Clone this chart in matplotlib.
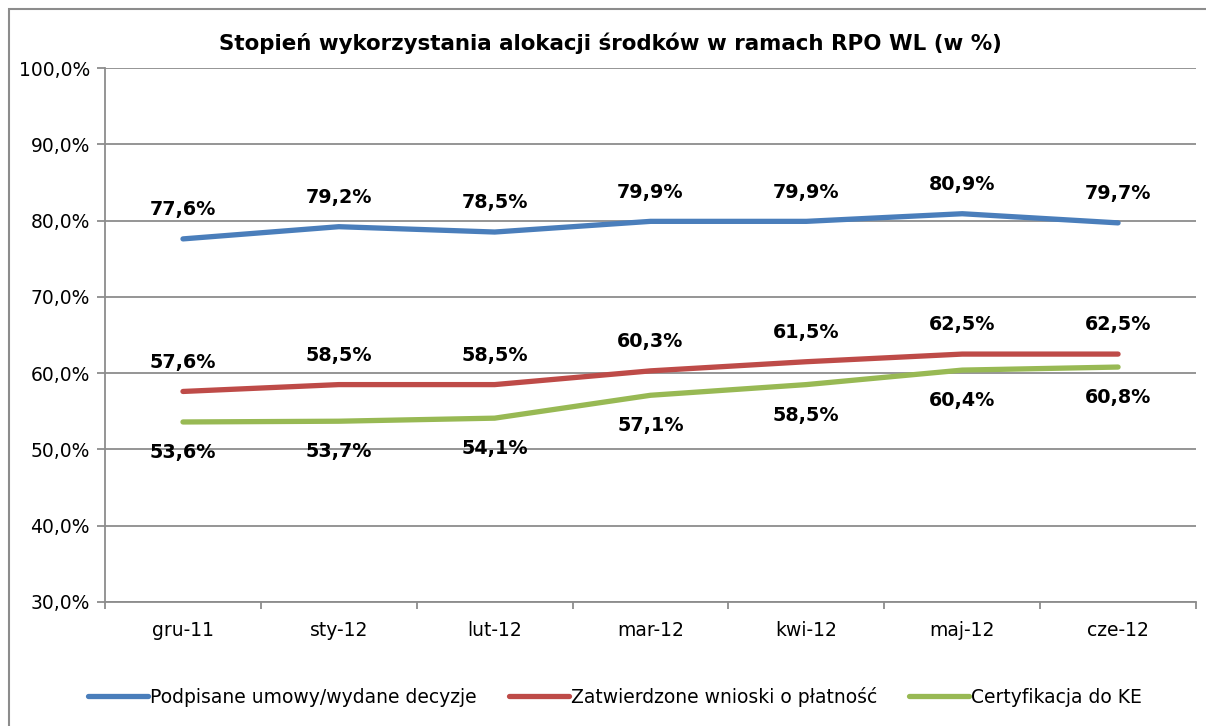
import matplotlib
matplotlib.use('Agg')
import matplotlib.pyplot as plt
from matplotlib.patches import Rectangle
from matplotlib.ticker import FuncFormatter, FixedLocator

# data
months = ['gru-11', 'sty-12', 'lut-12', 'mar-12', 'kwi-12', 'maj-12', 'cze-12']
podpisane = [77.6, 79.2, 78.5, 79.9, 79.9, 80.9, 79.7]
zatwierdzone = [57.6, 58.5, 58.5, 60.3, 61.5, 62.5, 62.5]
certyfikacja = [53.6, 53.7, 54.1, 57.1, 58.5, 60.4, 60.8]
names = ['Podpisane umowy/wydane decyzje',
         'Zatwierdzone wnioski o płatność',
         'Certyfikacja do KE']

plt.rcParams['font.family'] = ['DejaVu Sans']

fig = plt.figure(figsize=(12.06, 7.26), dpi=100)
ax = fig.add_axes([0.0871, 0.1708, 0.9046, 0.7355])

# outer chart frame (only left/top visible in the reference)
fig.patches.append(Rectangle((8.5 / 1206, -0.05), 1.2, (726 - 9) / 726 + 0.05,
                             transform=fig.transFigure, fill=False,
                             edgecolor='#8c8c8c', lw=1.5))

x = list(range(len(months)))
series = [(podpisane, '#4A7EBB', 21), (zatwierdzone, '#BE4B48', 21),
          (certyfikacja, '#98B954', -22)]
for (vals, col, off), name in zip(series, names):
    ax.plot(x, vals, color=col, lw=3.8, label=name, solid_capstyle='round')
    for xi, v in zip(x, vals):
        ax.annotate(f'{v:.1f}%'.replace('.', ','), (xi, v), xytext=(0, off),
                    textcoords='offset points', ha='center', va='center',
                    fontsize=13.8, fontweight='bold')

ax.set_xlim(-0.5, 6.5)
ax.set_ylim(30, 100)
ax.set_yticks(range(30, 101, 10))
ax.yaxis.set_major_formatter(FuncFormatter(lambda v, p: f'{v:.1f}%'.replace('.', ',')))
ax.grid(axis='y', color='#8c8c8c', lw=1.3)
ax.set_axisbelow(True)

ax.set_xticks(x)
ax.set_xticklabels(months)
ax.xaxis.set_minor_locator(FixedLocator([i - 0.5 for i in range(len(months) + 1)]))
ax.tick_params(axis='x', which='major', length=0, pad=14, labelsize=13.5)
ax.tick_params(axis='x', which='minor', length=5, color='#8c8c8c', width=1.3)
ax.tick_params(axis='y', length=6, color='#8c8c8c', width=1.3, labelsize=13.5, pad=5)

for s in ['top', 'right']:
    ax.spines[s].set_visible(False)
for s in ['left', 'bottom']:
    ax.spines[s].set_color('#8c8c8c')
    ax.spines[s].set_linewidth(1.3)

fig.text(0.506, 0.94, 'Stopień wykorzystania alokacji środków w ramach RPO WL (w %)',
         ha='center', va='center', fontsize=15.4, fontweight='bold')

fig.legend(loc='center', bbox_to_anchor=(0.51, 0.04), ncol=3, frameon=False,
           fontsize=13.5, handlelength=3.2, handletextpad=0.1, columnspacing=1.7)

fig.savefig('out.png', dpi=100)
